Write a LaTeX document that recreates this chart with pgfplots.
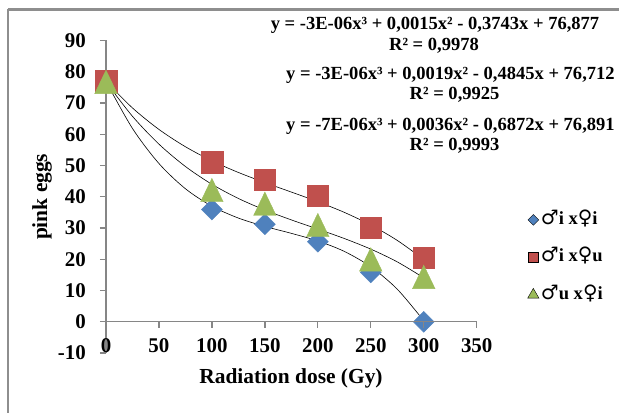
\documentclass[border=0pt]{standalone}
\usepackage{fontspec}
\setmainfont{Liberation Serif}
\newfontfamily\symf{DejaVu Sans}
\usepackage{pgfplots}
\pgfplotsset{compat=1.18}
\definecolor{sblue}{HTML}{4F81BD}
\definecolor{sred}{HTML}{C0504D}
\definecolor{sgreen}{HTML}{9BBB59}
\definecolor{axgray}{HTML}{868686}
\definecolor{framegray}{HTML}{8E8E8E}
\newcommand{\m}{{\symf\mdseries\fontsize{20}{22}\selectfont ♂}}
\newcommand{\f}{{\symf\mdseries\fontsize{20}{22}\selectfont ♀}}
\newcommand{\tickf}{\fontsize{21}{23}\selectfont\bfseries}
\newcommand{\titf}{\fontsize{21.5}{24}\selectfont\bfseries}
\newcommand{\eqf}{\fontsize{18.6}{21}\selectfont\bfseries}

\begin{document}
\begin{tikzpicture}[x=1bp,y=1bp]
\path[use as bounding box] (-106,-59) rectangle (513,353);
\draw[framegray, line width=1.2bp] (-98,-70) -- (-98,343.7);
\draw[framegray, line width=2.4bp] (-98,343.7) -- (530,343.7);
\begin{axis}[
  at={(0,0)}, anchor=south west, scale only axis,
  width=370.7bp, height=312.5bp,
  xmin=0, xmax=350, ymin=-10, ymax=90,
  axis x line*=bottom, axis y line*=left,
  x axis line style={draw=none},
  y axis line style={axgray, line width=1.3bp},
  xtick={0,50,...,350}, ytick={-10,0,...,90},
  xtick style={draw=none}, major x tick style={draw=none},
  ytick style={axgray, line width=1.3bp},
  tick align=outside, major tick length=6bp,
  ticklabel style={font=\tickf, /pgf/number format/assume math mode=true},
  xticklabel style={anchor=south, inner sep=0pt, yshift=6bp},
  yticklabel style={anchor=east, inner sep=0pt, xshift=-14bp},
  legend style={at={(1.137,0.306)}, anchor=west, draw=none, fill=none,
    font=\eqf, row sep=14.5bp, inner sep=0pt,
    nodes={text height=14bp, text depth=5bp}},
  legend cell align=left,
  clip=false,
]
% data
\addplot[only marks, mark=square*, mark size=7.4bp, color=sblue,
  mark options={rotate=45, draw=none, fill=sblue}, forget plot] coordinates {
  (0,77) (100,35.9) (150,31.2) (200,25.6) (250,15.8) (300,0)};
\addplot[only marks, mark=square*, mark size=10.8bp, color=sred,
  mark options={draw=none, fill=sred}, forget plot] coordinates {
  (0,77) (100,51.1) (150,45.5) (200,40.3) (250,30.1) (300,20.5)};
\addplot[only marks, mark=triangle*, mark size=13bp, color=sgreen,
  mark options={yscale=1.2, yshift=-3.9bp, draw=none, fill=sgreen}, forget plot] coordinates {
  (0,77) (100,42.4) (150,38.0) (200,31.2) (250,20.2) (300,14.6)};
% trendlines
\addplot[black, line width=0.6bp, smooth, forget plot] coordinates {
  (0,76.88) (25,68.41) (50,61.54) (75,56.00) (100,51.50) (125,47.77) (150,44.53)
  (175,41.50) (200,38.42) (225,35.00) (250,30.96) (275,26.03) (300,19.94)};
\addplot[black, line width=0.6bp, smooth, forget plot] coordinates {
  (0,76.71) (25,65.74) (50,56.83) (75,49.68) (100,43.99) (125,39.45) (150,35.75)
  (175,32.59) (200,29.65) (225,26.64) (250,23.24) (275,19.16) (300,14.07)};
\addplot[black, line width=0.6bp, smooth, forget plot] coordinates {
  (0,76.89) (25,61.85) (50,50.63) (75,42.56) (100,36.97) (125,33.18) (150,30.51)
  (175,28.29) (200,25.85) (225,22.51) (250,17.59) (275,10.42) (300,0.33)};
\addlegendimage{only marks, mark=square*, mark size=3.8bp, mark options={rotate=45, draw=none, fill=sblue}}
\addlegendentry{\m i x\f i}
\addlegendimage{only marks, mark=square*, mark size=5.3bp, mark options={draw=none, fill=sred}}
\addlegendentry{\m i x\f u}
\addlegendimage{only marks, mark=triangle*, mark size=6.5bp, mark options={draw=none, fill=sgreen}}
\addlegendentry{\m u x\f i}
\end{axis}
% x axis line at y = 0 and its ticks
\draw[axgray, line width=1.3bp] (-6,31.25) -- (370.7,31.25);
\foreach \k in {1,...,7}{
  \draw[axgray, line width=1.3bp] (52.957*\k,31.25) -- ++(0,-6);
}
\node[font=\titf, rotate=90] at (-64,156.2) {pink eggs};
\node[font=\titf] at (185,-25.7) {Radiation dose (Gy)};
\node[font=\eqf, inner sep=0pt] at (329,328) {y = -3E-06x³ + 0,0015x² - 0,3743x + 76,877};
\node[font=\eqf, inner sep=0pt] at (328,307.5) {R² = 0,9978};
\node[font=\eqf, inner sep=0pt, anchor=west] at (180,277.3) {y = -3E-06x³ + 0,0019x² - 0,4845x + 76,712};
\node[font=\eqf, inner sep=0pt] at (348.6,258.3) {R² = 0,9925};
\node[font=\eqf, inner sep=0pt, anchor=west] at (180,227) {y = -7E-06x³ + 0,0036x² - 0,6872x + 76,891};
\node[font=\eqf, inner sep=0pt] at (348.6,207) {R² = 0,9993};
\end{tikzpicture}
\end{document}
